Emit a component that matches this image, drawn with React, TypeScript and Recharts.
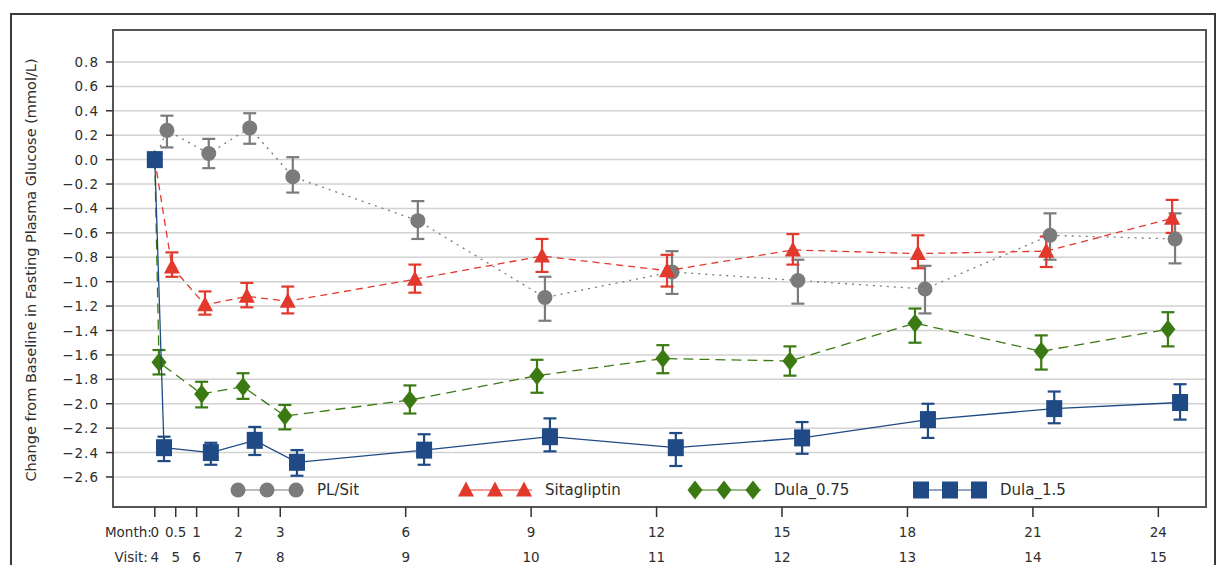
import React from "react";
import {
  ScatterChart,
  Scatter,
  XAxis,
  YAxis,
  CartesianGrid,
  ErrorBar,
  ReferenceArea,
} from "recharts";

// x axis ticks (months) and visit numbers shown under them
const monthTicks = [0, 0.5, 1, 2, 3, 6, 9, 12, 15, 18, 21, 24];
const monthLabels = ["0", "0.5", "1", "2", "3", "6", "9", "12", "15", "18", "21", "24"];
const visitLabels = ["4", "5", "6", "7", "8", "9", "10", "11", "12", "13", "14", "15"];
const yTicks = [0.8, 0.6, 0.4, 0.2, 0, -0.2, -0.4, -0.6, -0.8, -1.0, -1.2, -1.4, -1.6, -1.8, -2.0, -2.2, -2.4, -2.6];

// PL/Sit
const plMonths = [0, 0.29, 1.29, 2.27, 3.3, 6.29, 9.33, 12.37, 15.38, 18.42, 21.41, 24.4];
const plMean = [0, 0.24, 0.05, 0.26, -0.14, -0.5, -1.13, -0.92, -0.99, -1.06, -0.62, -0.65];
const plLow = [0, 0.1, -0.07, 0.13, -0.27, -0.65, -1.32, -1.1, -1.18, -1.26, -0.82, -0.85];
const plHigh = [0, 0.36, 0.17, 0.38, 0.02, -0.34, -0.96, -0.75, -0.82, -0.87, -0.44, -0.44];

// Sitagliptin
const sitaMonths = [0, 0.41, 1.2, 2.2, 3.18, 6.22, 9.26, 12.25, 15.26, 18.25, 21.32, 24.33];
const sitaMean = [0, -0.88, -1.19, -1.12, -1.16, -0.98, -0.79, -0.91, -0.74, -0.77, -0.75, -0.48];
const sitaLow = [0, -0.96, -1.27, -1.21, -1.26, -1.09, -0.92, -1.04, -0.86, -0.89, -0.88, -0.6];
const sitaHigh = [0, -0.76, -1.08, -1.01, -1.04, -0.86, -0.65, -0.78, -0.61, -0.62, -0.63, -0.33];

// Dula_0.75
const d075Months = [0, 0.1, 1.12, 2.11, 3.11, 6.1, 9.14, 12.15, 15.19, 18.18, 21.2, 24.23];
const d075Mean = [0, -1.66, -1.92, -1.86, -2.1, -1.97, -1.77, -1.63, -1.65, -1.34, -1.57, -1.39];
const d075Low = [0, -1.76, -2.03, -1.96, -2.21, -2.08, -1.91, -1.75, -1.77, -1.5, -1.72, -1.53];
const d075High = [0, -1.56, -1.82, -1.75, -2.01, -1.85, -1.64, -1.52, -1.53, -1.22, -1.44, -1.25];

// Dula_1.5
const d15Months = [0, 0.22, 1.34, 2.39, 3.4, 6.44, 9.45, 12.46, 15.48, 18.49, 21.51, 24.52];
const d15Mean = [0, -2.36, -2.4, -2.3, -2.48, -2.38, -2.27, -2.36, -2.28, -2.13, -2.04, -1.99];
const d15Low = [0, -2.47, -2.5, -2.42, -2.59, -2.5, -2.39, -2.51, -2.41, -2.28, -2.16, -2.13];
const d15High = [0, -2.27, -2.32, -2.19, -2.38, -2.25, -2.12, -2.24, -2.15, -2.0, -1.9, -1.84];

const GRAY = "#7b7b7b";
const RED = "#e2392c";
const GREEN = "#3b7a12";
const BLUE = "#1f4a85";
const FONT = "'DejaVu Sans', sans-serif";
const TEXT = "#2e2e2e";

const X_DOMAIN: [number, number] = [-1, 25.14];
const Y_DOMAIN: [number, number] = [-2.846, 1.062];

const toRows = (xs: number[], mean: number[], low: number[], high: number[]) =>
  xs.map((x, i) => ({ x, y: mean[i], err: [mean[i] - low[i], high[i] - mean[i]] }));

const plData = toRows(plMonths, plMean, plLow, plHigh);
const sitaData = toRows(sitaMonths, sitaMean, sitaLow, sitaHigh);
const d075Data = toRows(d075Months, d075Mean, d075Low, d075High);
const d15Data = toRows(d15Months, d15Mean, d15Low, d15High);

const CircleMark = ({ cx, cy }: any) => <circle cx={cx} cy={cy} r={7.5} fill={GRAY} />;
const TriMark = ({ cx, cy }: any) => (
  <path d={`M${cx},${cy - 8.5}L${cx + 8},${cy + 6.5}L${cx - 8},${cy + 6.5}Z`} fill={RED} />
);
const DiamondMark = ({ cx, cy }: any) => (
  <path d={`M${cx},${cy - 9.5}L${cx + 7.5},${cy}L${cx},${cy + 9.5}L${cx - 7.5},${cy}Z`} fill={GREEN} />
);
const SquareMark = ({ cx, cy }: any) => (
  <rect x={cx - 8} y={cy - 8.5} width={16} height={17} fill={BLUE} />
);

const MonthVisitTick = ({ x, y, payload }: any) => {
  const i = monthTicks.indexOf(payload.value);
  const style = { fontFamily: FONT, fontSize: 13.5, fill: TEXT };
  return (
    <g>
      {i === 0 && (
        <>
          <text x={x - 3} y={y + 18} textAnchor="end" style={style}>Month:</text>
          <text x={x - 7} y={y + 43} textAnchor="end" style={style}>Visit:</text>
        </>
      )}
      <text x={x} y={y + 18} textAnchor="middle" style={style}>{monthLabels[i]}</text>
      <text x={x} y={y + 43} textAnchor="middle" style={style}>{visitLabels[i]}</text>
    </g>
  );
};

const fmtY = (v: number) => (v < 0 ? "\u2212" + Math.abs(v).toFixed(1) : v.toFixed(1));

// y tick label, right-aligned a few px left of the tick mark
const YTick = ({ x, y, payload }: any) => (
  <text
    x={x - 5}
    y={y}
    dy={5}
    textAnchor="end"
    style={{ fontFamily: FONT, fontSize: 13.5, fill: TEXT, letterSpacing: 1 }}
  >
    {fmtY(payload.value)}
  </text>
);

const legendItems = [
  { name: "PL/Sit", left: 222, mark: "circle", color: GRAY },
  { name: "Sitagliptin", left: 450, mark: "tri", color: RED },
  { name: "Dula_0.75", left: 679, mark: "diamond", color: GREEN },
  { name: "Dula_1.5", left: 905, mark: "square", color: BLUE },
];

const LegendMark = ({ kind, cx, cy, color }: any) => {
  if (kind === "circle") return <circle cx={cx} cy={cy} r={7.5} fill={color} />;
  if (kind === "tri")
    return <path d={`M${cx},${cy - 8.5}L${cx + 8},${cy + 6.5}L${cx - 8},${cy + 6.5}Z`} fill={color} />;
  if (kind === "diamond")
    return <path d={`M${cx},${cy - 9.5}L${cx + 7.5},${cy}L${cx},${cy + 9.5}L${cx - 7.5},${cy}Z`} fill={color} />;
  return <rect x={cx - 8} y={cy - 8.5} width={16} height={17} fill={color} />;
};

export default function App() {
  return (
    <div style={{ position: "relative", width: 1209, height: 557, fontFamily: FONT }}>
      {/* outer frame */}
      <div
        style={{
          position: "absolute",
          left: 2,
          top: 5,
          width: 1206,
          height: 570,
          border: "2px solid #3a3a3a",
          boxSizing: "border-box",
        }}
      />
      <div style={{ position: "absolute", left: 0, top: 0 }}>
        <ScatterChart
          width={1209}
          height={565}
          margin={{ top: 22, right: 11, bottom: 0, left: 45 }}
        >
          <CartesianGrid vertical={false} stroke="#d2d2d2" strokeWidth={1.5} />
          <XAxis
            dataKey="x"
            type="number"
            domain={X_DOMAIN}
            ticks={monthTicks}
            allowDataOverflow
            axisLine={false}
            tickLine={{ stroke: "#333", strokeWidth: 1.5 }}
            tickSize={10}
            height={66}
            tick={<MonthVisitTick />}
            interval={0}
          />
          <YAxis
            dataKey="y"
            type="number"
            domain={Y_DOMAIN}
            ticks={yTicks}
            allowDataOverflow
            axisLine={false}
            tickLine={{ stroke: "#333", strokeWidth: 1.5 }}
            tickSize={7}
            width={60}
            interval={0}
            tick={<YTick />}
          />
          <ReferenceArea
            x1={X_DOMAIN[0]}
            x2={X_DOMAIN[1]}
            y1={Y_DOMAIN[0]}
            y2={Y_DOMAIN[1]}
            fill="none"
            stroke="#555"
            strokeWidth={2}
          />
          <Scatter
            data={plData}
            shape={<CircleMark />}
            line={{ stroke: GRAY, strokeWidth: 1.3, strokeDasharray: "2 5" }}
            isAnimationActive={false}
          >
            <ErrorBar dataKey="err" direction="y" width={6.5} stroke={GRAY} strokeWidth={2.2} />
          </Scatter>
          <Scatter
            data={sitaData}
            shape={<TriMark />}
            line={{ stroke: RED, strokeWidth: 1.3, strokeDasharray: "7 5" }}
            isAnimationActive={false}
          >
            <ErrorBar dataKey="err" direction="y" width={6.5} stroke={RED} strokeWidth={2.2} />
          </Scatter>
          <Scatter
            data={d075Data}
            shape={<DiamondMark />}
            line={{ stroke: GREEN, strokeWidth: 1.3, strokeDasharray: "10 6" }}
            isAnimationActive={false}
          >
            <ErrorBar dataKey="err" direction="y" width={6.5} stroke={GREEN} strokeWidth={2.2} />
          </Scatter>
          <Scatter
            data={d15Data}
            shape={<SquareMark />}
            line={{ stroke: BLUE, strokeWidth: 1.3 }}
            isAnimationActive={false}
          >
            <ErrorBar dataKey="err" direction="y" width={6.5} stroke={BLUE} strokeWidth={2.2} />
          </Scatter>
        </ScatterChart>
      </div>

      {/* y axis title */}
      <div
        style={{
          position: "absolute",
          left: 23,
          top: 262,
          width: 0,
          height: 0,
        }}
      >
        <div
          style={{
            position: "absolute",
            transform: "translate(-50%, -50%) rotate(-90deg)",
            whiteSpace: "nowrap",
            fontSize: 14.5,
            color: TEXT,
          }}
        >
          Change from Baseline in Fasting Plasma Glucose (mmol/L)
        </div>
      </div>

      {/* legend */}
      {legendItems.map((it) => (
        <div
          key={it.name}
          style={{ position: "absolute", left: it.left, top: 472, height: 20, display: "flex", alignItems: "center" }}
        >
          <svg width={82} height={20}>
            <line x1={8} y1={10} x2={74} y2={10} stroke={it.color} strokeWidth={1} />
            {[8, 37, 66].map((cx) => (
              <LegendMark key={cx} kind={it.mark} cx={cx} cy={10} color={it.color} />
            ))}
          </svg>
          <span style={{ fontSize: 15, color: TEXT, marginLeft: 5 }}>{it.name}</span>
        </div>
      ))}
    </div>
  );
}
